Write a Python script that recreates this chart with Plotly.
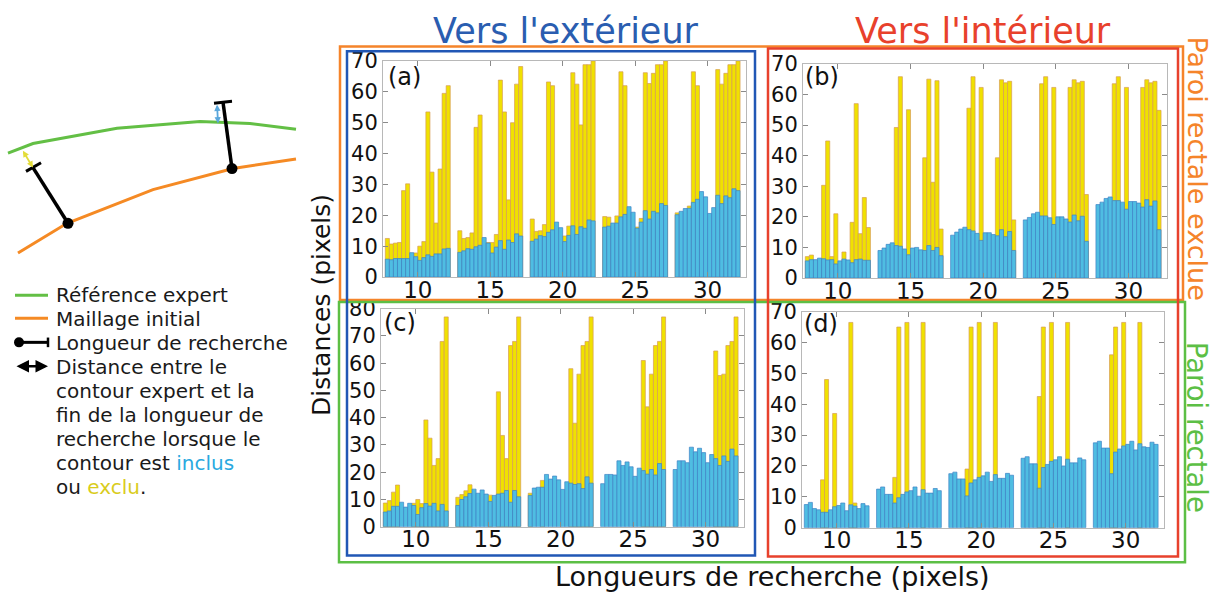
import plotly.graph_objects as go

W, H = 1217, 605
FONT = "DejaVu Sans"

# Search lengths (x categories) and 16 cases per length
lengths = [10, 15, 20, 25, 30]
N_CASES = 16
BW = 0.28

# (a) outward, rectal wall excluded : included distance / total (yellow top)
a_inclus = [
    [5.8, 5.6, 6, 6, 6, 6, 7.9, 6.6, 5.4, 6.3, 7.2, 6.7, 7.5, 7.5, 9.1, 9.3],
    [8, 8.5, 9.2, 9, 9.8, 10.3, 12.8, 11, 7.8, 9.7, 11.8, 9, 12, 11.2, 14, 13.3],
    [11.6, 12.3, 13.4, 13.1, 14.5, 15.3, 17.8, 16, 11.5, 13.5, 16.6, 13.8, 16.3, 15.8, 18.5, 18.2],
    [16.2, 16.5, 17.5, 17.5, 19.5, 20.3, 22.8, 21, 15.8, 17.8, 21.5, 18.8, 21.3, 20.8, 23.8, 23.2],
    [20.2, 21.3, 22.2, 22.3, 24.2, 25.2, 27.7, 26, 20.6, 22.5, 26.5, 23.8, 26.3, 25.7, 28.6, 28],
]
a_total = [
    [12.5, 10.7, 11, 11.2, 28, 30.2, None, 7.8, 10, 11.5, 53.5, 34, 17.5, 35, 59.5, 62],
    [15, 12.5, 12.8, 14.3, 48.5, 52.5, None, 11.2, 11.2, 13.8, 63.8, 53.5, 25, 50, 62.5, 68.2],
    [18.8, 14.8, 15, 17, 63.2, 62, None, None, 13.3, 16.5, 66.2, 62.5, 49.3, 68.8, 68.8, 70],
    [19.6, 19.4, None, 19.8, 66.5, 62, None, None, 16.2, 19, 66.2, 62.7, 66, 68.8, 68.8, 70],
    [20.8, None, None, 23, 66.5, 62, None, None, None, None, 67.2, 62.5, 66, 68.8, 68.8, 70],
]

# (b) inward, rectal wall excluded
b_inclus = [
    [5.6, 6, 6, 6.5, 6.3, 5.9, 6, 4.6, 5.6, 6.2, 5.9, 5, 6, 6.2, 5.8, 5.8],
    [9, 9.8, 11, 11.5, 10.6, 10.4, 9.5, 7.6, 9.8, 10, 9.2, 9, 10.6, 9, 10, 7.3],
    [14, 15, 16, 16.6, 15.8, 15.4, 14.6, 12.3, 14.8, 14.8, 14.2, 13.8, 15.8, 13.5, 15.2, 9],
    [19, 19.8, 21, 21.5, 20.3, 20.3, 19.7, 17.5, 20, 20, 19.3, 18.3, 20.6, 18.7, 20.2, 12],
    [24, 24.8, 26, 26.5, 25.3, 25.3, 24.8, 22.5, 25, 25, 24.5, 23.2, 25.6, 23.5, 25.2, 15.8],
]
b_total = [
    [7, 7.5, None, None, 30.3, 44.8, 7, 21, None, 8.5, None, 18.2, 57, 14.5, 26.3, 16.5],
    [None, None, None, None, 49.2, 65.8, None, 55, None, None, None, 39.3, 65, 31.3, 64.5, 16],
    [None, None, None, None, 55.5, 65.8, None, 62.3, None, None, None, 39.3, 64.8, 63.8, 64.3, 19],
    [None, None, None, None, 63.5, 65.8, None, 62.3, None, None, None, 62.3, 64.8, 63.8, 64.3, 27.3],
    [None, None, None, None, 63.5, 65.8, None, 62.3, None, None, None, 62.3, 64.8, 63.8, 64.3, 54.8],
]

# (c) outward, rectal wall included
c_inclus = [
    [5.4, 5.8, 7.5, 7.5, 9, 7.2, 8.6, 7.8, 4.5, 7, 8.5, 7.6, 8.6, 5.8, 8.2, 5.8],
    [7.8, 10, 11, 12.2, 13.8, 12.3, 13.5, 12, 9.3, 11.5, 12, 12.3, 13.3, 9, 13.3, 11],
    [11.5, 14.2, 14.5, 14.5, 19.2, 17.5, 18.6, 17.2, 13.7, 16.5, 16, 15.5, 15.8, 14, 18.3, 16],
    [15.8, 19.2, 19.2, 19, 24.2, 22.5, 23.8, 22, 18.5, 21.5, 20.6, 19.3, 21, 19, 23.2, 21],
    [21, 24.2, 24.2, 23.5, 29.2, 27.5, 28.8, 27.2, 23.5, 26.5, 25, 22.5, 26, 24, 28.5, 26],
]
c_total = [
    [8.7, 9.6, 12.7, 15.3, None, None, None, 8.6, 10, 8.5, 39.2, 32.5, 22.5, 25, 68, 77],
    [10.8, 11.8, 13.2, 15.4, None, None, None, None, 11.6, None, 49.5, 33.5, 25, 66.5, 68, 77],
    [12.3, None, None, 17, None, None, None, None, None, None, 58, 38, 56, 66.5, 68, 77],
    [None, None, None, None, None, None, None, None, None, None, 61, 44, 56, 66.5, 68, 77],
    [None, None, None, None, None, None, None, None, None, None, 64.5, 55.5, 56, 66.5, 68, 77],
]

# (d) inward, rectal wall included
d_inclus = [
    [7.5, 8.2, 6.2, 5.8, 5, 5, 5.8, 6.8, 7.2, 8, 5.5, 7.4, 7, 6.2, 7.8, 7.1],
    [12.5, 13.2, 10.8, 10.8, 8, 9.7, 10.8, 11.6, 12, 13.2, 10.2, 12.3, 11.2, 11.2, 12.7, 12],
    [17.5, 18, 15.8, 15.8, 10.3, 14.5, 15.5, 16.3, 16.8, 18, 15, 17.2, 16, 16, 17.6, 17],
    [22.5, 23, 20.7, 20.7, 12.8, 19.5, 20.5, 21.5, 22, 23, 20, 22.2, 21, 21, 22.6, 22],
    [27.5, 28, 25.8, 25.8, 17.5, 24.5, 25.5, 26.5, 27, 28, 25.2, 27.2, 26.2, 26, 27.7, 27],
]
d_total = [
    [None, None, None, None, 15.5, 48, None, 37, None, None, None, 66.5, 8, None, None, None],
    [None, None, None, None, 16.3, 65, None, 66.5, None, None, None, 66.5, None, None, None, None],
    [None, None, None, None, 19, 65, None, 66.5, None, None, None, 66.5, None, None, None, None],
    [None, None, None, None, 42.5, 65, None, 66.5, None, None, None, 66.5, None, None, None, None],
    [None, None, None, None, 56, 65, None, 66.5, None, None, None, 66.5, None, None, None, None],
]

panel_labels = ["(a)", "(b)", "(c)", "(d)"]
y_max = [70, 70, 80, 70]

BLUE_FILL = "#4fbde2"
BLUE_EDGE = "#3d82c6"
YEL_FILL = "#f0e100"
YEL_EDGE = "#d79c55"


def px(x):
    return x / W


def py(y):
    return 1 - y / H


# plot-area boxes in pixels: (left, right, top, bottom)
boxes = [(383, 746, 51, 276), (803, 1167, 54, 277), (381, 744, 309, 536), (802, 1164, 312, 537)]
label_pos = [(386, 68), (803, 68), (382, 324), (802, 325)]

fig = go.Figure()
layout = {}
annotations = []

data_sets = [(a_inclus, a_total), (b_inclus, b_total), (c_inclus, c_total), (d_inclus, d_total)]

for k, ((inc, tot), box, ymax) in enumerate(zip(data_sets, boxes, y_max), start=1):
    xs = [c + (i - (N_CASES - 1) / 2) * BW for c in lengths for i in range(N_CASES)]
    flat_inc = [v for g in inc for v in g]
    flat_tot = [v for g in tot for v in g]
    xa = "x" if k == 1 else f"x{k}"
    ya = "y" if k == 1 else f"y{k}"
    fig.add_trace(go.Bar(
        x=xs, y=flat_tot, width=BW, xaxis=xa, yaxis=ya, showlegend=False,
        marker=dict(color=YEL_FILL, line=dict(color=YEL_EDGE, width=0.7)),
    ))
    fig.add_trace(go.Bar(
        x=xs, y=flat_inc, width=BW, xaxis=xa, yaxis=ya, showlegend=False,
        marker=dict(color=BLUE_FILL, line=dict(color=BLUE_EDGE, width=0.7)),
    ))
    l, r, t, b = box
    suffix = "" if k == 1 else str(k)
    layout["xaxis" + suffix] = dict(
        domain=[px(l), px(r)], anchor=ya, range=[7.6, 32.65],
        tickvals=lengths, ticks="inside", ticklen=5, tickcolor="#8a8a8a",
        showline=True, linecolor="#b8b8b8", linewidth=1, mirror="allticks",
        showgrid=False, zeroline=False, ticklabelstandoff=-8,
        tickfont=dict(family=FONT, size=23, color="#111"),
    )
    layout["yaxis" + suffix] = dict(
        domain=[py(b), py(t)], anchor=xa, range=[0, ymax],
        tickvals=list(range(0, ymax + 1, 10)), ticks="inside", ticklen=5,
        tickcolor="#8a8a8a", showline=True, linecolor="#b8b8b8", linewidth=1,
        mirror="allticks", showgrid=False, zeroline=False,
        tickfont=dict(family=FONT, size=21, color="#111"),
    )
    lx, ly = label_pos[k - 1]
    annotations.append(dict(
        x=px(lx), y=py(ly), xref="paper", yref="paper", xanchor="left", yanchor="middle",
        text=panel_labels[k - 1], showarrow=False,
        font=dict(family=FONT, size=24, color="#111"),
    ))

# full-figure pixel axis for the explanatory sketch
layout["xaxis5"] = dict(domain=[0, 1], range=[0, W], visible=False, fixedrange=True)
layout["yaxis5"] = dict(domain=[0, 1], range=[H, 0], visible=False, fixedrange=True, anchor="x5")

GREEN = "#63bf45"
ORANGE = "#f58a24"


def sketch_line(xs, ys, color, width=3, mode="lines", marker=None):
    fig.add_trace(go.Scatter(
        x=xs, y=ys, mode=mode, xaxis="x5", yaxis="y5", showlegend=False,
        line=dict(color=color, width=width), marker=marker or {}, hoverinfo="skip",
    ))


# expert reference and initial mesh
sketch_line([8, 33, 117, 200, 250, 296], [147, 137, 121, 114, 116, 122], GREEN)
sketch_line([18, 67, 153, 233, 296], [251, 220, 185, 163, 153], ORANGE)
# search lengths with T ends and anchor dots
sketch_line([68, 33], [220, 162], "black", 3.5)
sketch_line([26, 41], [166, 157], "black", 3)
sketch_line([232, 223], [163, 94], "black", 3.5)
sketch_line([214, 232], [95, 93], "black", 3)
sketch_line([68, 232], [220, 163], "black", mode="markers",
            marker=dict(color="black", size=11))

# legend symbols
sketch_line([15, 48], [295, 295], GREEN)
sketch_line([15, 48], [319, 319], ORANGE)
sketch_line([19, 48], [344, 344], "black", 3)
sketch_line([48, 48], [339, 349], "black", 2.5)
sketch_line([19], [344], "black", mode="markers", marker=dict(color="black", size=10))


def double_arrow(x0, y0, x1, y1, color, width=2, size=1.0):
    annotations.append(dict(
        x=x1, y=y1, ax=x0, ay=y0, xref="x5", yref="y5", axref="x5", ayref="y5",
        text="", showarrow=True, arrowhead=2, arrowsize=size, arrowwidth=width,
        arrowcolor=color, arrowside="end+start",
    ))


double_arrow(22, 143, 33, 162, "#e3dc3a", 1.8, 0.7)
double_arrow(217, 95, 218, 116, "#5aa7dc", 1.8, 0.7)
double_arrow(15, 369, 48, 369, "black", 2.5)

legend_lines = [
    "Référence expert",
    "Maillage initial",
    "Longueur de recherche",
    "Distance entre le",
    "contour expert et la",
    "fin de la longueur de",
    "recherche lorsque le",
    'contour est <span style="color:#2aa9e0">inclus</span>',
    'ou <span style="color:#d9cc1c">exclu</span>.',
]
for i, txt in enumerate(legend_lines):
    annotations.append(dict(
        x=px(54), y=py(295 + 24.9 * i), xref="paper", yref="paper",
        xanchor="left", yanchor="middle", text=txt, showarrow=False,
        font=dict(family=FONT, size=20, color="#1a1a1a"),
    ))


def label(text, x, y, size, color, angle=0):
    annotations.append(dict(
        x=px(x), y=py(y), xref="paper", yref="paper", xanchor="center", yanchor="middle",
        text=text, showarrow=False, textangle=angle,
        font=dict(family=FONT, size=size, color=color),
    ))


label("Vers l'extérieur", 566, 20, 35, "#2a5db0")
label("Vers l'intérieur", 983, 20, 35, "#e8412c")
label("Paroi rectale exclue", 1197, 163, 27, "#f5842a", 90)
label("Paroi rectale", 1197, 432, 27.5, "#5cbf45", 90)
label("Distances (pixels)", 322, 305, 25, "#111", -90)
label("Longueurs de recherche (pixels)", 773, 588, 27, "#111")


def rect(l, t, r, b, color, width=2.5):
    return dict(type="rect", xref="paper", yref="paper",
                x0=px(l), x1=px(r), y0=py(b), y1=py(t),
                line=dict(color=color, width=width), fillcolor="rgba(0,0,0,0)")


shapes = [
    rect(340, 36, 1183, 300, "#f5842a"),
    rect(339, 302, 1185, 573, "#5cbf45"),
    rect(347, 41, 755, 566, "#2157b5"),
    rect(768, 38, 1178, 567, "#e8412c"),
]

fig.update_layout(
    width=W, height=H, margin=dict(l=0, r=0, t=0, b=0),
    paper_bgcolor="white", plot_bgcolor="rgba(0,0,0,0)",
    barmode="overlay", showlegend=False,
    annotations=annotations, shapes=shapes,
    **layout,
)

fig.write_html("out.html")
